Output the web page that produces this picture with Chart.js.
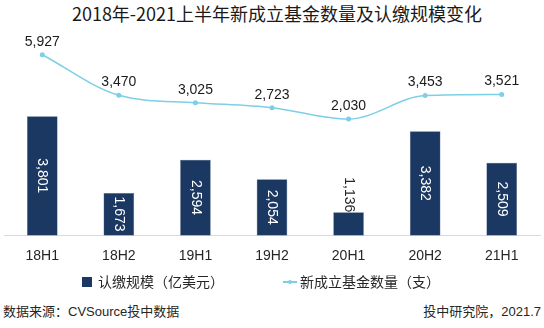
<!DOCTYPE html>
<html>
<head>
<meta charset="utf-8">
<script src="https://cdn.jsdelivr.net/npm/chart.js@4/dist/chart.umd.min.js"></script>
<style>
  html, body { margin: 0; padding: 0; background: #fff; }
  body { width: 544px; height: 328px; position: relative; overflow: hidden;
         font-family: "Liberation Sans", "Noto Sans CJK SC", sans-serif; color: #262626; }
  #title { position: absolute; left: 0; width: 554px; top: 2px; text-align: center;
           font-family: "Noto Sans CJK SC", sans-serif; font-size: 18px; line-height: 22px; color: #1a1a1a; }
  canvas { position: absolute; left: 0; top: 0; }
  .lg { position: absolute; top: 273px; font-size: 14px; line-height: 18px; font-family: "Liberation Sans", "Noto Sans CJK SC", sans-serif; color: #262626; }
  .sq { position: absolute; left: 82px; top: 277px; width: 10px; height: 10px; background: #1b3862; }
  .ln { position: absolute; left: 283px; top: 281px; width: 14px; height: 1.5px; background: #7ccfe6; }
  .dot { position: absolute; left: 287.5px; top: 279.5px; width: 4.5px; height: 4.5px; border-radius: 50%; background: #7ccfe6; }
  .ft { position: absolute; top: 303px; font-size: 13px; line-height: 17px; color: #262626; }
</style>
</head>
<body>
<div id="title">2018年-2021上半年新成立基金数量及认缴规模变化</div>
<canvas id="c" width="544" height="278"></canvas>
<div class="sq"></div>
<div class="lg" style="left:98px;">认缴规模（亿美元）</div>
<div class="ln"></div><div class="dot"></div>
<div class="lg" style="left:300px;">新成立基金数量（支）</div>
<div class="ft" style="left:3px;">数据来源：CVSource投中数据</div>
<div class="ft" style="right:3px;">投中研究院，2021.7</div>
<script>
const categories = ["18H1", "18H2", "19H1", "19H2", "20H1", "20H2", "21H1"];
const scaleValues = [3801, 1673, 2594, 2054, 1136, 3382, 2509];   // 认缴规模（亿美元）
const fundCounts = [5927, 3470, 3025, 2723, 2030, 3453, 3521];    // 新成立基金数量（支）
const seriesNames = ["认缴规模（亿美元）", "新成立基金数量（支）"];

const barColor = "#1b3862";
const lineColor = "#7ccfe6";
const fmt = v => v.toLocaleString("en-US");

const labelPlugin = {
  id: "valueLabels",
  afterDatasetsDraw(chart) {
    const ctx = chart.ctx;
    const bottom = chart.chartArea.bottom;
    ctx.save();
    ctx.font = '14px "Liberation Sans", sans-serif';
    const bm = chart.getDatasetMeta(0);
    bm.data.forEach((el, i) => {
      const txt = fmt(scaleValues[i]);
      const w = ctx.measureText(txt).width;
      const base = Math.min(el.base, bottom);
      const h = base - el.y;
      ctx.save();
      ctx.textBaseline = "middle";
      if (w + 2 < h) {
        ctx.translate(el.x, (el.y + base) / 2);
        ctx.rotate(Math.PI / 2);
        ctx.textAlign = "center";
        ctx.fillStyle = "#ffffff";
        ctx.fillText(txt, 0, 0);
      } else {
        ctx.translate(el.x, el.y);
        ctx.rotate(Math.PI / 2);
        ctx.textAlign = "right";
        ctx.fillStyle = "#262626";
        ctx.fillText(txt, 0, 0);
      }
      ctx.restore();
    });
    const lm = chart.getDatasetMeta(1);
    ctx.textAlign = "center";
    ctx.textBaseline = "middle";
    ctx.fillStyle = "#1a1a1a";
    lm.data.forEach((el, i) => {
      ctx.fillText(fmt(fundCounts[i]), el.x, el.y - 13);
    });
    ctx.restore();
  }
};

new Chart(document.getElementById("c"), {
  data: {
    labels: categories,
    datasets: [
      {
        type: "bar",
        label: seriesNames[0],
        data: scaleValues,
        backgroundColor: barColor,
        borderColor: "#4a6485",
        borderWidth: 0.5,
        yAxisID: "yBar",
        barPercentage: 0.4,
        categoryPercentage: 1,
        order: 2
      },
      {
        type: "line",
        label: seriesNames[1],
        data: fundCounts,
        borderColor: lineColor,
        backgroundColor: lineColor,
        borderWidth: 1.5,
        pointRadius: 2.5,
        pointBorderWidth: 0,
        cubicInterpolationMode: "monotone",
        yAxisID: "yLine",
        order: 1
      }
    ]
  },
  options: {
    responsive: false,
    animation: false,
    layout: { padding: { top: 37, left: -1, right: -1, bottom: 0 } },
    plugins: { legend: { display: false }, title: { display: false }, tooltip: { enabled: false } },
    scales: {
      x: {
        offset: true,
        grid: { display: false, drawTicks: false },
        border: { display: true, color: "#d9d9d9", width: 1 },
        ticks: { color: "#262626", font: { family: '"Liberation Sans", sans-serif', size: 14 }, padding: 13, maxRotation: 0, autoSkip: false }
      },
      yBar: { display: false, min: 500, max: 6000 },
      yLine: { display: false, min: -5000, max: 7000, position: "right" }
    }
  },
  plugins: [labelPlugin]
});
</script>
</body>
</html>
